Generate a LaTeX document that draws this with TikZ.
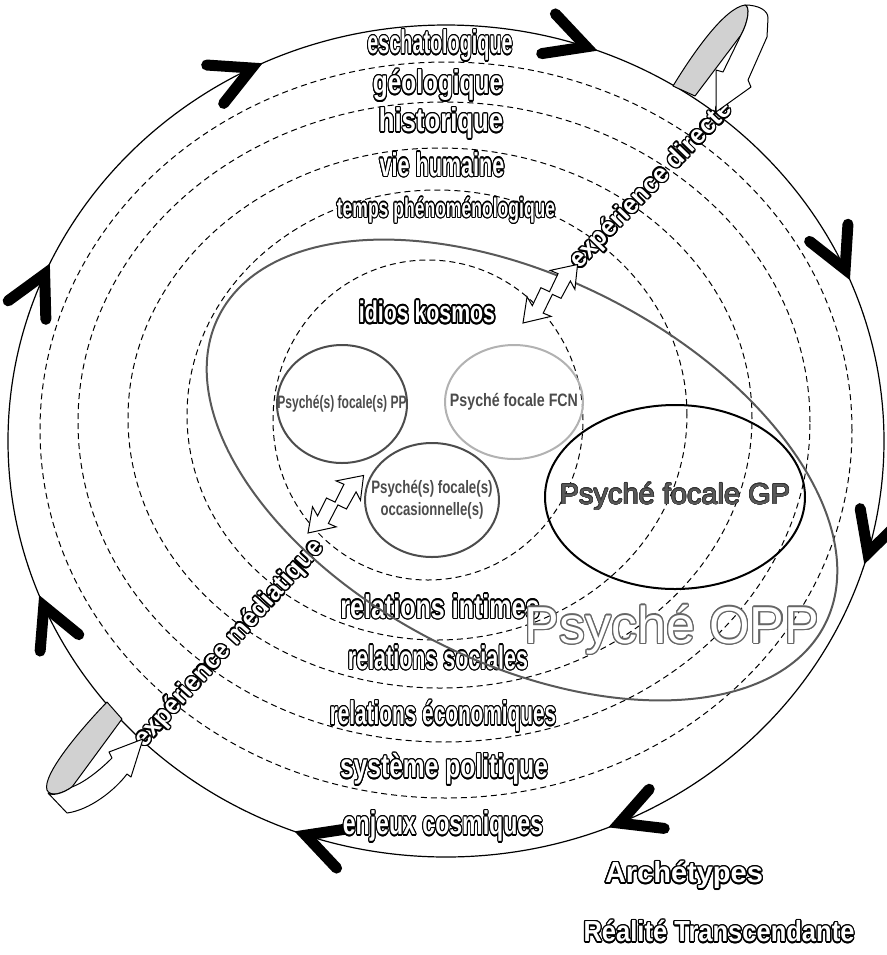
\documentclass[tikz,border=0pt]{standalone}
\usepackage{fontspec}
\setmainfont{Liberation Sans}
\usepackage{graphicx}
\usepackage{contour}
\contourlength{0.7pt}
\usetikzlibrary{shapes.geometric}

\newcommand{\ringtext}[2]{\scalebox{#1}[1]{\contour{black}{#2}}}

\tikzset{
  ringlabel/.style={text=white, inner sep=0pt, font=\bfseries\fontsize{16.5}{18}\selectfont},
  ringline/.style={draw, ellipse, dashed, dash pattern=on 3pt off 2pt, line width=0.5pt, inner sep=0pt},
  psyring/.style={draw, ellipse, line width=1pt, inner sep=0pt},
  psytext/.style={text=black!70, inner sep=0pt, align=center, font=\bfseries\fontsize{9}{10}\selectfont},
  zig/.style={draw, fill=white, line width=0.5pt, line join=miter},
  curl/.style={draw, line width=0.5pt, line join=round},
  chevron/.pic={\draw[line width=5.5pt, line cap=round, line join=miter] (-50,-21) -- (-10,0) -- (-50,21);}
}

\begin{document}
\begin{tikzpicture}[x=0.5pt, y=-0.5pt]
  \useasboundingbox (0,0) rectangle (887,955);

  % outer cycle with its arrowheads
  \node[draw, ellipse, line width=0.6pt, minimum width=438pt, minimum height=416pt, inner sep=0pt] (cosmos) at (446,441) {};
  \foreach \t in {205,245,290,337,17,68,110,158}
    \pic[rotate={atan2(-416*cos(\t),-438*sin(\t))}] at ({446+438*cos(\t)},{441+416*sin(\t)}) {chevron};

  % dashed rings
  \foreach \n/\cx/\cy/\rx/\ry in {1/428/420/155/160, 2/437/415/250/225, 3/440/418/312/270,
                                  4/444/422/366/320, 5/446/430/406/368}
    \node[ringline, minimum width=\rx pt, minimum height=\ry pt] (ring\n) at (\cx,\cy) {};

  % time scales
  \node[ringlabel] (escha) at (440,46) {\ringtext{0.60}{eschatologique}};
  \node[ringlabel] (geo) at (438,86) {\ringtext{0.74}{géologique}};
  \node[ringlabel] (histo) at (441,124) {\ringtext{0.78}{historique}};
  \node[ringlabel] (vie) at (442,165) {\ringtext{0.655}{vie humaine}};
  \node[ringlabel, font=\bfseries\fontsize{13.5}{15}\selectfont] (temps) at (446,211) {\ringtext{0.65}{temps phénoménologique}};

  % relations
  \node[ringlabel] (intimes) at (440,607) {\ringtext{0.76}{relations intimes}};
  \node[ringlabel] (sociales) at (438,658) {\ringtext{0.65}{relations sociales}};
  \node[ringlabel] (eco) at (443,717) {\ringtext{0.63}{relations économiques}};
  \node[ringlabel] (politique) at (444,770) {\ringtext{0.746}{système politique}};
  \node[ringlabel] (enjeux) at (443,827) {\ringtext{0.70}{enjeux cosmiques}};

  \node[ringlabel, font=\bfseries\fontsize{15}{16}\selectfont] (idios) at (427,313)
    {\contourlength{1pt}\ringtext{0.71}{idios kosmos}};

  \node[ringlabel, font=\bfseries\fontsize{13}{14}\selectfont, rotate=46] (directe) at (652,186) {\ringtext{0.97}{expérience directe}};
  \node[ringlabel, font=\bfseries\fontsize{13}{14}\selectfont, rotate=48] (media) at (230,644) {\ringtext{0.96}{expérience médiatique}};

  % psychés
  \node[draw=black!65, ellipse, line width=1pt, minimum width=340pt, minimum height=192pt, inner sep=0pt, rotate=-27] (opp) at (522,470) {};
  \node[text=white, inner sep=0pt, font=\fontsize{26}{28}\selectfont] (opptext) at (672,630)
    {\contourlength{0.6pt}\contour{black!60}{Psyché OPP}};

  \node[psyring, draw=black] (gp) at (675,497) [minimum width=130pt, minimum height=92pt] {};
  \node[text=black!65, inner sep=0pt, font=\fontsize{14.5}{16}\selectfont] at (gp.center)
    {\contourlength{0.3pt}\contour{black!80}{Psyché focale GP}};

  \node[psyring, draw=black!70] (pp) at (342,404) [minimum width=65pt, minimum height=59pt] {};
  \node[psytext] at (pp.center) {\scalebox{0.67}[1]{Psyché(s) focale(s) PP}};

  \node[psyring, draw=black!30] (fcn) at (514,402) [minimum width=69pt, minimum height=57pt] {};
  \node[psytext] at (fcn.center) {\scalebox{0.79}[1]{Psyché focale FCN}};

  \node[psyring, draw=black!70] (occ) at (432,500) [minimum width=67pt, minimum height=57pt] {};
  \node[psytext] at (occ.center) {\scalebox{0.74}[1]{Psyché(s) focale(s)}\\[1pt]\scalebox{0.73}[1]{occasionnelle(s)}};

  % zigzag double arrows
  \foreach \sx/\sy/\ang in {523/323/47, 308/533/46}
    \draw[zig, shift={(\sx,\sy)}, rotate=\ang] (0,0) -- (22,-15) -- (19,-5) -- (38,-11) -- (41,-2) -- (60,-8)
      -- (57,-16) -- (80,0) -- (60,15) -- (63,6) -- (44,11) -- (41,2) -- (21,8) -- (24,16) -- cycle;

  % curls
  \filldraw[curl, fill=black!18] (673,86) .. controls (695,50) and (725,8) .. (745,5)
    .. controls (750,6) and (749,20) .. (741,35) -- (695,96) -- cycle;
  \filldraw[curl, fill=white] (745,5) .. controls (758,5) and (768,10) .. (768,18) -- (767,37) -- (748,80)
    -- (751,87) -- (716,112) -- (716,70) -- (723,72) -- (741,35) .. controls (749,20) and (750,6) .. (745,5) -- cycle;

  \filldraw[curl, fill=black!18] (107,702) .. controls (80,730) and (42,775) .. (47,790)
    .. controls (50,797) and (62,794) .. (72,787) -- (122,719) -- cycle;
  \filldraw[curl, fill=white] (48,793) -- (67,813) .. controls (90,810) and (115,790) .. (127,774) -- (131,777)
    -- (143,739) -- (109,752) -- (112,758) .. controls (100,770) and (85,782) .. (72,787)
    .. controls (62,794) and (52,796) .. (48,793) -- cycle;

  % beyond
  \node[ringlabel, font=\bfseries\fontsize{14.5}{16}\selectfont] (arche) at (684,876) {\ringtext{1.0}{Archétypes}};
  \node[ringlabel, font=\bfseries\fontsize{14.5}{16}\selectfont] (reel) at (719,932) {\ringtext{0.88}{Réalité Transcendante}};
\end{tikzpicture}
\end{document}
